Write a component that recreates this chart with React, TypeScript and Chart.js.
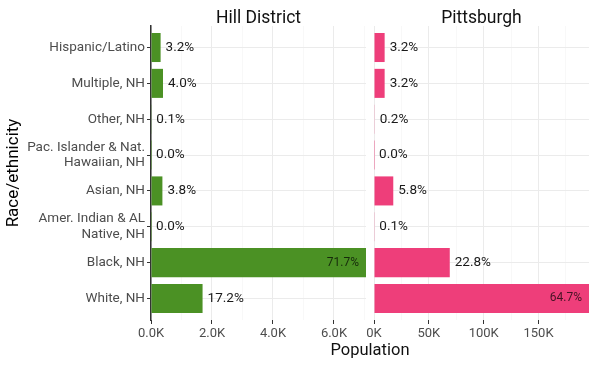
import React, { useEffect, useRef } from "react";
import { Chart, registerables } from "chart.js";

Chart.register(...registerables);
Chart.defaults.font.family = "Roboto";

const categories = [
  "Hispanic/Latino",
  "Multiple, NH",
  "Other, NH",
  "Pac. Islander & Nat.\nHawaiian, NH",
  "Asian, NH",
  "Amer. Indian & AL\nNative, NH",
  "Black, NH",
  "White, NH",
];

const hillValues = [315, 393, 10, 2, 374, 3, 7050, 1691];
const hillPct = ["3.2%", "4.0%", "0.1%", "0.0%", "3.8%", "0.0%", "71.7%", "17.2%"];

const pghValues = [9700, 9700, 606, 100, 17570, 300, 69080, 196000];
const pghPct = ["3.2%", "3.2%", "0.2%", "0.0%", "5.8%", "0.1%", "22.8%", "64.7%"];

const facetTitles = ["Hill District", "Pittsburgh"];
const xTitle = "Population";
const yTitle = "Race/ethnicity";

const GREEN = "#4b9124";
const PINK = "#ee3e7a";
const GRID = "#ebebeb";
const GRID_MINOR = "#f4f4f4";
const TICK_TEXT = "#4d4d4d";

const labelPlugin = {
  id: "barLabels",
  afterDatasetsDraw(chart: any, _args: any, opts: any) {
    const ctx = chart.ctx;
    const meta = chart.getDatasetMeta(0);
    const data = chart.data.datasets[0].data as any[];
    const labels: string[] = opts.labels || [];
    const maxV = Math.max(...data.map((d) => d.x));
    meta.data.forEach((el: any, i: number) => {
      const v = data[i].x;
      ctx.save();
      ctx.textBaseline = "middle";
      if (v === maxV) {
        ctx.font = "12px Roboto";
        ctx.fillStyle = "rgba(0,0,0,0.7)";
        ctx.textAlign = "right";
        ctx.fillText(labels[i], el.x - 7, el.y);
      } else {
        ctx.font = "13.5px Roboto";
        ctx.fillStyle = "#1a1a1a";
        ctx.textAlign = "left";
        ctx.fillText(labels[i], el.x + 5, el.y);
      }
      ctx.restore();
    });
  },
};

function makeConfig(
  values: number[],
  pct: string[],
  color: string,
  step: number,
  majorStep: number,
  fmt: (v: number) => string,
  isLeft: boolean,
  yWidth: number,
  padRight: number
): any {
  const maxV = Math.max(...values);
  const isMajor = (v: number) => Math.abs(v % majorStep) < 1e-6;
  return {
    type: "bar",
    data: {
      datasets: [
        {
          data: values.map((v, i) => ({ x: v, y: i })),
          backgroundColor: color,
          borderWidth: 0,
          barPercentage: 0.9,
          categoryPercentage: 0.9,
        },
      ],
    },
    plugins: [labelPlugin],
    options: {
      indexAxis: "y",
      animation: false,
      responsive: false,
      maintainAspectRatio: false,
      layout: { padding: { top: 26, bottom: 0, left: 0, right: padRight } },
      plugins: {
        legend: { display: false },
        tooltip: { enabled: false },
        title: { display: false },
        barLabels: { labels: pct },
      },
      scales: {
        x: {
          type: "linear",
          min: 0,
          max: maxV,
          offset: false,
          afterBuildTicks: (s: any) => {
            const t: any[] = [];
            for (let v = 0; v <= maxV; v += step) t.push({ value: v });
            s.ticks = t;
          },
          ticks: {
            autoSkip: false,
            maxRotation: 0,
            padding: 2,
            color: TICK_TEXT,
            font: { size: 13 },
            callback: (v: number) => (isMajor(v) ? fmt(v) : ""),
          },
          grid: {
            offset: false,
            color: (c: any) => (c.tick && isMajor(c.tick.value) ? GRID : GRID_MINOR),
            lineWidth: (c: any) => (c.tick && isMajor(c.tick.value) ? 1 : 0.6),
            tickLength: 4,
            tickColor: (c: any) =>
              c.tick && isMajor(c.tick.value) ? "#333" : "rgba(0,0,0,0)",
          },
          border: { display: false },
          afterFit: (s: any) => {
            s.height = 47;
          },
        },
        y: {
          type: "linear",
          reverse: true,
          offset: false,
          min: -0.6,
          max: categories.length - 0.4,
          afterBuildTicks: (s: any) => {
            s.ticks = categories.map((_, i) => ({ value: i }));
          },
          ticks: {
            display: isLeft,
            autoSkip: false,
            padding: 2,
            color: TICK_TEXT,
            font: { size: 13.5, lineHeight: 1.15 },
            callback: (v: number) => categories[v].split("\n"),
          },
          grid: {
            offset: false,
            color: GRID,
            lineWidth: 1,
            drawTicks: isLeft,
            tickLength: 4,
            tickColor: "#333",
          },
          border: { display: isLeft, color: "#333", width: 1.5 },
          title: {
            display: isLeft,
            text: yTitle,
            color: "#000",
            font: { size: 17 },
            padding: { top: 4, bottom: 0 },
          },
          afterFit: (s: any) => {
            s.width = yWidth;
          },
        },
      },
    },
  };
}

function ChartCanvas(props: { config: () => any; left: number; width: number }) {
  const ref = useRef<HTMLCanvasElement>(null);
  useEffect(() => {
    if (!ref.current) return;
    const chart = new Chart(ref.current, props.config());
    return () => chart.destroy();
  }, []);
  return (
    <canvas
      ref={ref}
      width={props.width}
      height={367}
      style={{
        position: "absolute",
        left: props.left,
        top: 0,
        width: props.width,
        height: 367,
      }}
    />
  );
}

const textStyle = (left: number, top: number, width: number, size: number): any => ({
  position: "absolute",
  left,
  top,
  width,
  height: 22,
  lineHeight: "22px",
  textAlign: "center",
  fontFamily: "Roboto",
  fontSize: size,
  color: "#111",
  whiteSpace: "nowrap",
});

export default function App() {
  return (
    <div
      style={{
        position: "absolute",
        left: 0,
        top: 0,
        width: 597,
        height: 367,
        background: "#fff",
        overflow: "hidden",
      }}
    >
      <ChartCanvas
        left={0}
        width={370}
        config={() =>
          makeConfig(
            hillValues,
            hillPct,
            GREEN,
            1000,
            2000,
            (v) => (v / 1000).toFixed(1) + "K",
            true,
            151,
            4
          )
        }
      />
      <ChartCanvas
        left={350}
        width={247}
        config={() =>
          makeConfig(
            pghValues,
            pghPct,
            PINK,
            25000,
            50000,
            (v) => (v / 1000).toFixed(0) + "K",
            false,
            24,
            8
          )
        }
      />
      <div style={textStyle(151, 6, 215, 17.5)}>{facetTitles[0]}</div>
      <div style={textStyle(374, 6, 215, 17.5)}>{facetTitles[1]}</div>
      <div style={textStyle(151, 339, 438, 16.5)}>{xTitle}</div>
    </div>
  );
}
